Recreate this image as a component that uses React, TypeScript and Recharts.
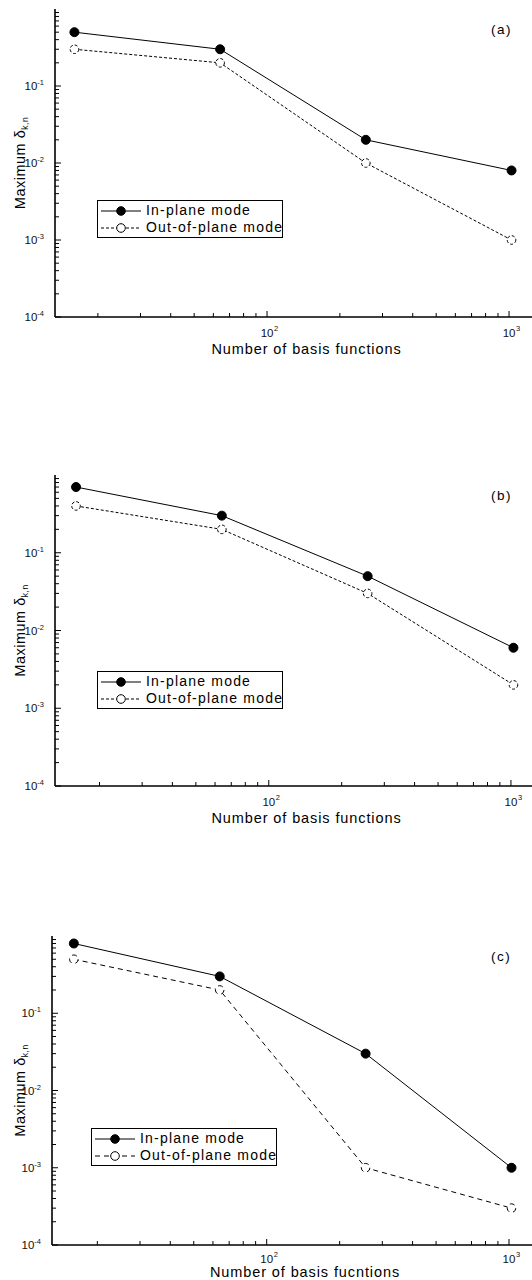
import React from 'react';
import { LineChart, Line, XAxis, YAxis, Legend } from 'recharts';

// ---------- data ----------
const basisCounts = [16, 64, 256, 1024];
const inPlaneA = [0.5, 0.3, 0.02, 0.008];
const outPlaneA = [0.3, 0.2, 0.01, 0.001];
const inPlaneB = [0.7, 0.3, 0.05, 0.006];
const outPlaneB = [0.4, 0.2, 0.03, 0.002];
const inPlaneC = [0.8, 0.3, 0.03, 0.001];
const outPlaneC = [0.5, 0.2, 0.001, 0.0003];

const panelLabels = ['(a)', '(b)', '(c)'];
const xTitles = ['Number of basis functions', 'Number of basis functions', 'Number of basis fucntions'];
const seriesNames = ['In-plane mode', 'Out-of-plane mode'];

const xMajorTicks = [100, 1000];
const xMinorTicks = [20, 30, 40, 50, 60, 70, 80, 90, 200, 300, 400, 500, 600, 700, 800, 900];
const yMajorTicks = [0.0001, 0.001, 0.01, 0.1];
const yMinorTicks = [
  0.0002, 0.0003, 0.0004, 0.0005, 0.0006, 0.0007, 0.0008, 0.0009,
  0.002, 0.003, 0.004, 0.005, 0.006, 0.007, 0.008, 0.009,
  0.02, 0.03, 0.04, 0.05, 0.06, 0.07, 0.08, 0.09,
  0.2, 0.3, 0.4, 0.5, 0.6, 0.7, 0.8, 0.9,
];

const FONT = '"Liberation Sans", Arial, sans-serif';

const build = (a: number[], b: number[]) =>
  basisCounts.map((n, i) => ({ n, inPlane: a[i], outPlane: b[i] }));

const panels = [
  { data: build(inPlaneA, outPlaneA), top: 0, height: 360, leftW: 55, xH: 43, xDomain: [13.3, 1268], dash: '3 2', legendTop: 200, legendLeft: 97, tickDy: 20, titleDy: 37 },
  { data: build(inPlaneB, outPlaneB), top: 466, height: 363, leftW: 55, xH: 43, xDomain: [13.1, 1245], dash: '3 2', legendTop: 205, legendLeft: 97, tickDy: 20, titleDy: 37 },
  { data: build(inPlaneC, outPlaneC), top: 927, height: 353, leftW: 52, xH: 35, xDomain: [13.0, 1268], dash: '5 4', legendTop: 201, legendLeft: 91, tickDy: 18, titleDy: 32 },
];

const isMajor = (list: number[], v: number) => list.some((m) => Math.abs(m - v) / m < 1e-6);

const YTick = (props: any) => {
  const { x, y, payload, side } = props;
  const v = payload.value;
  const major = isMajor(yMajorTicks, v);
  const len = major ? 6 : 4;
  const dir = side === 'left' ? 1 : -1;
  const exp = Math.round(Math.log10(v));
  return (
    <g>
      <line x1={x} y1={y} x2={x + dir * len} y2={y} stroke="#000" strokeWidth={1} />
      {side === 'left' && major && (
        <text x={x - 11} y={y + 4} textAnchor="end" fontFamily={FONT} fontSize={11.5} fill="#111">
          10<tspan dy={-5} fontSize={7.5}>{String(exp)}</tspan>
        </text>
      )}
    </g>
  );
};

const XTick = (props: any) => {
  const { x, y, payload, side, dy } = props;
  const v = payload.value;
  const major = isMajor(xMajorTicks, v);
  const len = major ? 6 : 4;
  const dir = side === 'bottom' ? -1 : 1;
  const exp = Math.round(Math.log10(v));
  return (
    <g>
      <line x1={x} y1={y} x2={x} y2={y + dir * len} stroke="#000" strokeWidth={1} />
      {side === 'bottom' && major && (
        <g>
          <text x={x} y={y + dy} textAnchor="middle" fontFamily={FONT} fontSize={11.5} fill="#111">10</text>
          <text x={x + 7} y={y + dy - 6} textAnchor="start" fontFamily={FONT} fontSize={7.5} fill="#111">{String(exp)}</text>
        </g>
      )}
    </g>
  );
};

const LegendBox = ({ dash }: { dash: string }) => (
  <div
    style={{
      width: 186,
      height: 38,
      boxSizing: 'border-box',
      border: '1.5px solid #000',
      background: '#fff',
      fontFamily: FONT,
      fontSize: 14,
      letterSpacing: 1.2,
      color: '#000',
      paddingTop: 1,
    }}
  >
    {seriesNames.map((name, i) => (
      <div key={name} style={{ display: 'flex', alignItems: 'center', height: 17, whiteSpace: 'nowrap' }}>
        <svg width={46} height={14} style={{ flex: 'none', marginLeft: 2 }}>
          <line x1={1} y1={7} x2={41} y2={7} stroke="#000" strokeWidth={1} strokeDasharray={i === 0 ? undefined : dash} />
          <circle cx={21} cy={7} r={4.3} fill={i === 0 ? '#000' : '#fff'} stroke="#000" strokeWidth={1} />
        </svg>
        <span style={{ lineHeight: '17px' }}>{name}</span>
      </div>
    ))}
  </div>
);

const Panel = ({ idx }: { idx: number }) => {
  const p = panels[idx];
  const allX = [...xMinorTicks, ...xMajorTicks].sort((a, b) => a - b);
  const allY = [...yMinorTicks, ...yMajorTicks].sort((a, b) => a - b);
  return (
    <div style={{ position: 'absolute', left: 0, top: p.top, width: 540, height: p.height }}>
      <LineChart width={540} height={p.height} data={p.data} margin={{ top: 9, right: 6, bottom: 0, left: 0 }}>
        <XAxis
          xAxisId="bottom"
          dataKey="n"
          type="number"
          scale="log"
          domain={p.xDomain}
          allowDataOverflow
          ticks={allX}
          interval={0}
          height={p.xH}
          tickSize={0}
          tickMargin={0}
          tickLine={false}
          axisLine={{ stroke: '#000', strokeWidth: 1.6 }}
          tick={(tp: any) => <XTick {...tp} side="bottom" dy={p.tickDy} />}
          label={{
            content: (lp: any) => {
              const vb = lp.viewBox || {};
              return (
                <text x={vb.x + vb.width / 2 + 12} y={vb.y + p.titleDy} textAnchor="middle" fontFamily={FONT} fontSize={14.5} letterSpacing={0.9} fill="#000">
                  {xTitles[idx]}
                </text>
              );
            },
          }}
        />
        <XAxis
          xAxisId="top"
          orientation="top"
          dataKey="n"
          type="number"
          scale="log"
          domain={p.xDomain}
          allowDataOverflow
          ticks={allX}
          interval={0}
          height={0}
          tickSize={0}
          tickMargin={0}
          tickLine={false}
          axisLine={{ stroke: '#000', strokeWidth: 1.6 }}
          tick={(tp: any) => <XTick {...tp} side="top" dy={0} />}
        />
        <YAxis
          yAxisId="left"
          type="number"
          scale="log"
          domain={[0.0001, 1]}
          allowDataOverflow
          ticks={allY}
          interval={0}
          width={p.leftW}
          tickSize={0}
          tickMargin={0}
          tickLine={false}
          axisLine={{ stroke: '#000', strokeWidth: 1.6 }}
          tick={(tp: any) => <YTick {...tp} side="left" />}
          label={{
            content: (lp: any) => {
              const vb = lp.viewBox || {};
              const cx = 25;
              const cy = vb.y + vb.height / 2;
              return (
                <text x={cx} y={cy} transform={`rotate(-90 ${cx} ${cy})`} textAnchor="middle" fontFamily={FONT} fontSize={14.5} letterSpacing={0.5} fill="#000">
                  Maximum δ<tspan dy={3} fontSize={8.5}>k,n</tspan>
                </text>
              );
            },
          }}
        />
        <YAxis
          yAxisId="right"
          orientation="right"
          type="number"
          scale="log"
          domain={[0.0001, 1]}
          allowDataOverflow
          ticks={allY}
          interval={0}
          width={0}
          tickSize={0}
          tickMargin={0}
          tickLine={false}
          axisLine={{ stroke: '#000', strokeWidth: 1.6 }}
          tick={(tp: any) => <YTick {...tp} side="right" />}
        />
        <Line
          xAxisId="top"
          yAxisId="right"
          dataKey="inPlane"
          stroke="none"
          dot={false}
          activeDot={false}
          legendType="none"
          isAnimationActive={false}
        />
        <Line
          xAxisId="bottom"
          yAxisId="left"
          dataKey="outPlane"
          name={seriesNames[1]}
          stroke="#000"
          strokeWidth={1}
          strokeDasharray={p.dash}
          dot={{ r: 4.3, fill: '#fff', stroke: '#000', strokeWidth: 1 }}
          activeDot={false}
          isAnimationActive={false}
        />
        <Line
          xAxisId="bottom"
          yAxisId="left"
          dataKey="inPlane"
          name={seriesNames[0]}
          stroke="#000"
          strokeWidth={1}
          dot={{ r: 4.5, fill: '#000', stroke: '#000', strokeWidth: 1 }}
          activeDot={false}
          isAnimationActive={false}
        />
        <Legend
          layout="vertical"
          align="center"
          verticalAlign="middle"
          content={() => <LegendBox dash={p.dash} />}
          wrapperStyle={{ position: 'absolute', left: p.legendLeft, top: p.legendTop, width: 'auto', bottom: 'auto', right: 'auto' }}
        />
      </LineChart>
      <div
        style={{
          position: 'absolute',
          left: 491,
          top: 22,
          fontFamily: FONT,
          fontSize: 13.5,
          letterSpacing: 1.5,
          color: '#000',
          lineHeight: '16px',
        }}
      >
        {panelLabels[idx]}
      </div>
    </div>
  );
};

export default function App() {
  return (
    <div style={{ position: 'absolute', left: 0, top: 0, width: 532, height: 1280, overflow: 'hidden', background: '#fff' }}>
      <Panel idx={0} />
      <Panel idx={1} />
      <Panel idx={2} />
    </div>
  );
}
